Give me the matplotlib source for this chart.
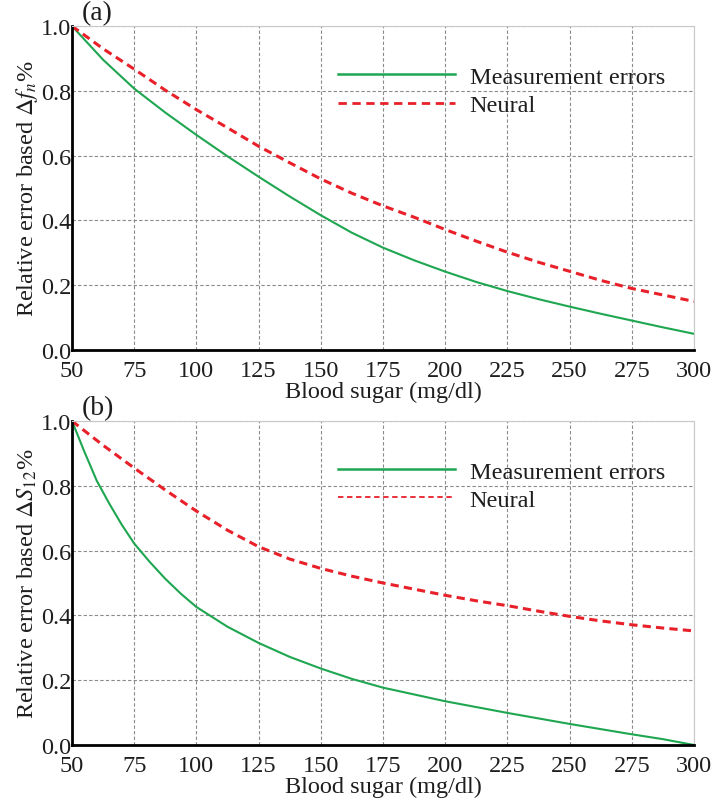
import matplotlib
matplotlib.use("Agg")
import matplotlib.pyplot as plt
from matplotlib.lines import Line2D

plt.rcParams['font.family'] = ['Liberation Serif', 'DejaVu Serif']
plt.rcParams['mathtext.fontset'] = 'stix'

# blood sugar values (mg/dl), read every 12.5
sugar = [50, 62.5, 75, 87.5, 100, 112.5, 125, 137.5, 150, 162.5, 175,
         187.5, 200, 212.5, 225, 237.5, 250, 262.5, 275, 287.5, 300]

# panel (a): relative error based on delta f_n
meas_a = [1.0, 0.896, 0.807, 0.733, 0.664, 0.598, 0.535, 0.474, 0.416, 0.362, 0.316,
          0.277, 0.242, 0.210, 0.182, 0.157, 0.134, 0.112, 0.091, 0.070, 0.050]
neural_a = [1.0, 0.93, 0.867, 0.802, 0.742, 0.686, 0.629, 0.578, 0.528, 0.484, 0.445,
            0.41, 0.372, 0.336, 0.302, 0.271, 0.243, 0.215, 0.19, 0.17, 0.15]

# panel (b): relative error based on delta S12 (green falls fast, so more points at the start)
sugar_b_meas = [50, 55, 60, 65, 70, 75, 81.25, 87.5, 93.75, 100, 112.5, 125, 137.5,
                150, 162.5, 175, 187.5, 200, 212.5, 225, 237.5, 250, 262.5, 275, 287.5, 300]
meas_b = [1.0, 0.905, 0.815, 0.745, 0.68, 0.622, 0.565, 0.513, 0.467, 0.426, 0.365, 0.315,
          0.272, 0.236, 0.204, 0.177, 0.156, 0.135, 0.117, 0.099, 0.082, 0.065, 0.049,
          0.033, 0.018, 0.0]
neural_b = [1.0, 0.925, 0.855, 0.787, 0.722, 0.663, 0.612, 0.574, 0.545, 0.521, 0.50,
            0.481, 0.462, 0.445, 0.43, 0.413, 0.397, 0.383, 0.371, 0.361, 0.352]

xticks = [50, 75, 100, 125, 150, 175, 200, 225, 250, 275, 300]
yticks = [0.0, 0.2, 0.4, 0.6, 0.8, 1.0]

green = '#1ea650'
red = '#e8202a'
txt = '#1e1e1e'
fs = 17.5

fig = plt.figure(figsize=(7.14, 8.12), dpi=100)
ax1 = fig.add_axes([0.1008, 0.5677, 0.8712, 0.399])
ax2 = fig.add_axes([0.1008, 0.0813, 0.8712, 0.399])

panels = [
    (ax1, sugar, meas_a, sugar, neural_a,
     r"Relative error based $\mathit{\Delta f_n}$%", "(a)", 2.0),
    (ax2, sugar_b_meas, meas_b, sugar, neural_b,
     r"Relative error based $\mathit{\Delta S}_{12}$%", "(b)", 1.3),
]

for ax, xm, ym, xn, yn, ylab, tag, leg_lw in panels:
    ax.plot(xm, ym, color=green, linewidth=1.5, solid_joinstyle='round')
    ax.plot(xn, yn, color=red, linewidth=2.2, linestyle=(0, (2.7, 1.7)))
    ax.set_xlim(50, 300)
    ax.set_ylim(0, 1.0)
    ax.set_xticks(xticks)
    ax.set_yticks(yticks)
    ax.set_xticklabels([str(v) for v in xticks])
    ax.set_yticklabels(['%.1f' % v for v in yticks])
    ax.tick_params(length=0, labelsize=fs, labelcolor=txt)
    ax.tick_params(axis='x', pad=7.5)
    ax.tick_params(axis='y', pad=0.5)
    ax.grid(True, color='#8a8a8a', linestyle=(0, (3, 2)), linewidth=0.8)
    ax.set_axisbelow(True)
    ax.spines['left'].set_linewidth(2)
    ax.spines['bottom'].set_linewidth(2)
    ax.spines['top'].set_color('#c8c8c8')
    ax.spines['right'].set_color('#c8c8c8')
    ax.set_xlabel("Blood sugar (mg/dl)", fontsize=fs, color=txt)
    ax.xaxis.set_label_coords(0.5, -0.127)
    ax.xaxis.label.set_va('center')
    ax.set_ylabel(ylab, fontsize=fs, color=txt)
    ax.yaxis.set_label_coords(-0.072, 0.5)
    ax.yaxis.label.set_va('center')
    handles = [Line2D([], [], color=green, linewidth=1.8),
               Line2D([], [], color=red, linewidth=leg_lw, linestyle=(0, (3, 2)))]
    ax.legend(handles, ['Measurement errors', 'Neural'], loc='center left',
              bbox_to_anchor=(0.4277, 0.80), frameon=False, fontsize=fs,
              handlelength=4.8, handletextpad=0.62, labelspacing=0.26,
              borderpad=0, borderaxespad=0, labelcolor=txt)
    ax.text(0.016, 1.04, tag, transform=ax.transAxes, fontsize=20, color=txt, va='center')

plt.savefig("out.png", dpi=100)
